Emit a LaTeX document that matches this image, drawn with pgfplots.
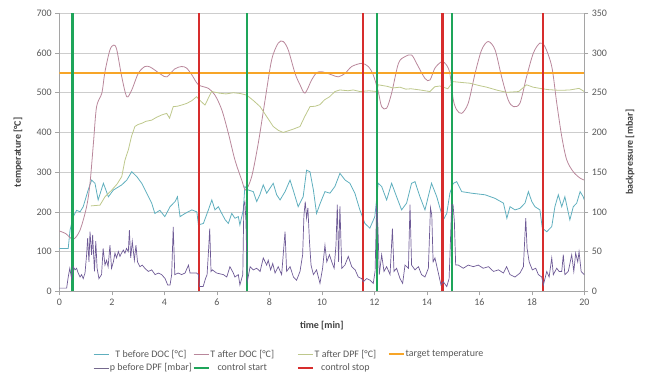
\documentclass[border=0pt]{standalone}
\usepackage{fontspec}
\setmainfont{Carlito}
\usepackage{pgfplots}
\pgfplotsset{compat=1.18}
\definecolor{cTb}{RGB}{95,175,190}
\definecolor{cTa}{RGB}{185,135,155}
\definecolor{cTd}{RGB}{190,200,140}
\definecolor{cTg}{RGB}{247,165,40}
\definecolor{cP}{RGB}{110,90,150}
\definecolor{cS}{RGB}{30,165,90}
\definecolor{cE}{RGB}{215,45,45}
\definecolor{gridc}{RGB}{205,205,205}
\definecolor{axisc}{RGB}{165,165,165}
\definecolor{tickc}{RGB}{89,89,89}
\definecolor{labc}{RGB}{64,64,64}
\begin{document}
\begin{tikzpicture}
\path[use as bounding box] (-59.3bp,-93.7bp) rectangle (585.7bp,291.3bp);
\pgfplotsset{
  every axis/.append style={
    scale only axis, width=525bp, height=278bp, at={(0,0)}, anchor=south west,
    xmin=0, xmax=20,
    tick align=outside, major tick length=4bp,
    tick style={axisc, line width=0.6pt},
    axis line style={-, axisc, line width=0.6pt},
    ticklabel style={font=\fontsize{10}{12}\selectfont, text=tickc},
    /pgf/number format/assume math mode=true,
    label style={font=\fontsize{10}{12}\selectfont\bfseries, text=labc},
  }
}
\begin{axis}[
  ymin=0, ymax=700,
  xtick={0,2,...,20}, ytick={0,100,...,700},
  axis x line*=bottom, axis y line*=left,
  ymajorgrids, grid style={gridc, line width=0.6pt},
  xlabel={time [min]},
  xlabel style={at={(axis description cs:0.5,-0.122)}, anchor=center},
  ylabel={temperature [°C]},
  ylabel style={at={(axis description cs:-0.0787,0.5)}, anchor=center},
  legend columns=4,
  legend style={at={(axis description cs:0.0642,-0.251)}, anchor=west, draw=none,
    inner sep=0pt, nodes={inner xsep=1bp, inner ysep=1bp},
    font=\fontsize{10}{12}\selectfont, text=tickc, row sep=3bp,
    /tikz/column 2/.style={column sep=0bp},
    /tikz/column 4/.style={column sep=22bp},
    /tikz/column 6/.style={column sep=11bp}},
  legend image code/.code={\draw[#1] (0bp,0bp) -- (15bp,0bp);},
]
% T before DOC
\addplot[cTb, line width=0.8pt, forget plot] coordinates {
(0,108)(0.34,108)(0.41,154)(0.53,188)(0.66,204)(0.79,200)(0.91,213)(1.1,255)(1.23,280)(1.36,272)(1.48,230)(1.68,272)(1.87,238)(2.06,255)(2.38,268)(2.57,280)(2.76,301)(2.95,289)(3.14,272)(3.33,247)(3.52,222)(3.64,196)(3.83,204)(4.02,188)(4.22,213)(4.41,226)(4.5,238)(4.6,188)(4.79,196)(5.05,205)(5.24,200)(5.3,167)(5.49,171)(5.68,205)(5.81,230)(5.93,205)(6.06,213)(6.19,196)(6.32,180)(6.44,171)(6.57,196)(6.69,184)(6.82,188)(6.88,167)(7.01,205)(7.07,264)(7.2,255)(7.39,251)(7.52,226)(7.64,243)(7.77,268)(7.9,247)(8.03,260)(8.15,272)(8.28,243)(8.41,230)(8.6,251)(8.79,280)(8.91,255)(9.1,213)(9.29,238)(9.42,305)(9.55,301)(9.68,255)(9.8,196)(9.93,220)(10.12,251)(10.31,247)(10.5,264)(10.69,297)(10.89,280)(11.07,272)(11.26,247)(11.45,205)(11.64,171)(11.83,159)(12.02,188)(12.15,272)(12.28,264)(12.47,230)(12.66,272)(12.85,238)(13.04,205)(13.23,222)(13.42,272)(13.55,276)(13.74,238)(13.93,205)(14.18,272)(14.38,238)(14.63,180)(14.76,196)(14.88,247)(15.01,272)(15.14,276)(15.33,251)(15.71,247)(16.22,243)(16.6,234)(16.92,222)(17.05,184)(17.17,213)(17.36,205)(17.55,209)(17.74,222)(17.87,251)(18.0,226)(18.12,213)(18.31,205)(18.4,159)(18.57,150)(18.76,163)(18.88,213)(19.01,243)(19.14,213)(19.26,238)(19.45,180)(19.58,213)(19.71,222)(19.84,251)(19.96,238)(20,230)
};
% T after DOC
\addplot[cTa, line width=0.8pt, smooth, forget plot] coordinates {
(0,152)(0.25,145)(0.53,131)(0.79,154)(1.04,213)(1.17,272)(1.3,373)(1.42,465)(1.62,499)(1.74,553)(1.93,608)(2.08,620)(2.19,608)(2.38,540)(2.57,490)(2.76,507)(3.01,549)(3.26,566)(3.45,565)(3.64,557)(3.9,545)(4.1,540)(4.4,560)(4.66,566)(4.85,562)(5.05,545)(5.3,520)(5.68,511)(5.93,494)(6.19,457)(6.44,398)(6.69,331)(6.95,280)(7.1,255)(7.33,289)(7.58,373)(7.84,482)(8.09,583)(8.34,625)(8.53,629)(8.72,608)(8.98,549)(9.17,520)(9.36,499)(9.61,532)(9.8,550)(10.0,553)(10.38,545)(10.63,540)(10.89,549)(11.14,566)(11.52,574)(11.77,566)(11.96,545)(12.15,503)(12.28,465)(12.47,461)(12.66,499)(12.92,574)(13.17,591)(13.42,595)(13.61,574)(13.93,536)(14.12,532)(14.31,562)(14.57,578)(14.75,570)(14.88,548)(15.01,482)(15.14,457)(15.33,448)(15.58,474)(15.84,549)(16.09,608)(16.34,629)(16.6,608)(16.85,540)(17.1,482)(17.3,465)(17.55,474)(17.8,540)(18.06,600)(18.31,625)(18.5,616)(18.76,566)(18.95,474)(19.14,390)(19.33,331)(19.58,301)(19.84,285)(20,280)
};
% T after DPF
\addplot[cTd, line width=0.8pt, forget plot] coordinates {
(1.2,215)(1.55,217)(1.74,238)(2.0,255)(2.2,270)(2.38,289)(2.5,330)(2.63,356)(2.75,390)(2.88,415)(3.0,420)(3.14,423)(3.3,428)(3.52,431)(3.7,438)(3.9,444)(4.09,448)(4.2,436)(4.34,465)(4.5,466)(4.66,469)(4.85,473)(5.05,480)(5.23,490)(5.4,478)(5.55,469)(5.8,503)(6.1,499)(6.35,497)(6.63,500)(6.9,498)(7.14,494)(7.4,480)(7.65,465)(7.9,440)(8.15,415)(8.35,405)(8.53,400)(8.9,408)(9.17,415)(9.35,440)(9.55,465)(9.75,466)(9.93,470)(10.1,482)(10.3,490)(10.5,503)(10.69,507)(11.0,505)(11.2,507)(11.45,503)(11.8,505)(12.09,503)(12.15,520)(12.5,516)(12.7,512)(12.98,514)(13.2,509)(13.4,510)(13.74,507)(14.12,503)(14.3,515)(14.5,517)(14.8,510)(15.0,528)(15.3,526)(15.64,524)(16.0,518)(16.28,514)(16.7,506)(17.05,501)(17.5,503)(17.8,520)(18.05,514)(18.31,511)(18.6,508)(18.82,507)(19.1,506)(19.45,507)(19.8,511)(20,503)
};
% target temperature
\addplot[cTg, line width=2.2pt, forget plot] coordinates {(0,550)(20,550)};
% control start
\addplot[cS, line width=2.2pt, ycomb, forget plot] coordinates {(0.5,700)(7.16,700)(12.1,700)(14.96,700)};
% control stop
\addplot[cE, line width=2.2pt, ycomb, forget plot] coordinates {(5.32,700)(11.56,700)(14.6,700)(18.42,700)};
\addlegendimage{cTb, line width=0.8pt}
\addlegendentry{T before DOC [°C]}
\addlegendimage{cTa, line width=0.8pt}
\addlegendentry{T after DOC [°C]}
\addlegendimage{cTd, line width=0.8pt}
\addlegendentry{T after DPF [°C]}
\addlegendimage{cTg, line width=1.6pt}
\addlegendentry{target temperature}
\addlegendimage{cP!60!gray, line width=0.8pt}
\addlegendentry{p before DPF [mbar]}
\addlegendimage{cS, line width=1.6pt}
\addlegendentry{control start}
\addlegendimage{cE, line width=1.6pt}
\addlegendentry{control stop}
\end{axis}
\begin{axis}[
  ymin=0, ymax=350, ytick={0,50,...,350},
  axis x line=none, axis y line*=right,
  ylabel={backpressure [mbar]},
  ylabel style={at={(axis description cs:1.087,0.5)}, anchor=center},
]
\addplot[cP, line width=0.7pt] coordinates {
(0,4)(0.28,4)(0.34,18)(0.4,29)(0.47,16)(0.53,31)(0.6,27)(0.66,29)(0.72,23)(0.79,18)(0.85,21)(0.91,16)(0.98,23)(1.04,46)(1.08,67)(1.13,37)(1.17,75)(1.23,46)(1.27,71)(1.34,25)(1.39,63)(1.44,29)(1.51,16)(1.61,21)(1.67,54)(1.74,33)(1.8,39)(1.86,31)(1.93,58)(1.99,29)(2.06,37)(2.12,48)(2.18,42)(2.25,50)(2.31,44)(2.37,48)(2.44,52)(2.5,48)(2.56,54)(2.63,50)(2.67,77)(2.72,42)(2.78,63)(2.86,39)(2.92,58)(2.98,37)(3.07,31)(3.16,33)(3.26,29)(3.39,25)(3.52,27)(3.65,21)(3.77,23)(3.9,21)(4.03,16)(4.13,8)(4.22,8)(4.28,21)(4.34,81)(4.4,21)(4.53,23)(4.66,21)(4.79,23)(4.92,33)(4.98,23)(5.1,23)(5.23,23)(5.3,21)(5.34,6)(5.48,6)(5.57,16)(5.63,21)(5.69,54)(5.73,79)(5.78,25)(5.83,27)(5.99,23)(6.25,21)(6.38,18)(6.5,31)(6.63,23)(6.69,18)(6.82,21)(6.88,8)(6.99,21)(7.03,109)(7.07,113)(7.11,88)(7.16,12)(7.27,31)(7.39,27)(7.52,29)(7.65,25)(7.77,42)(7.9,33)(7.96,39)(8.05,27)(8.13,35)(8.22,23)(8.34,31)(8.47,21)(8.6,75)(8.66,25)(8.79,31)(8.92,18)(9.04,14)(9.17,25)(9.27,46)(9.32,96)(9.37,113)(9.42,92)(9.47,105)(9.53,63)(9.59,33)(9.68,21)(9.8,27)(9.93,10)(10.03,29)(10.12,58)(10.19,37)(10.29,46)(10.38,37)(10.47,29)(10.54,58)(10.59,109)(10.64,37)(10.69,107)(10.76,29)(10.88,33)(11.01,44)(11.14,31)(11.27,27)(11.39,18)(11.52,16)(11.58,12)(11.71,16)(11.84,14)(11.96,10)(12.03,25)(12.09,109)(12.14,79)(12.19,21)(12.28,46)(12.37,25)(12.47,31)(12.6,21)(12.69,79)(12.75,25)(12.85,29)(12.98,16)(13.08,10)(13.17,33)(13.3,29)(13.36,109)(13.42,33)(13.55,27)(13.68,31)(13.8,21)(13.93,18)(14.06,29)(14.14,105)(14.19,96)(14.24,37)(14.31,42)(14.44,23)(14.54,8)(14.63,12)(14.76,6)(14.85,16)(14.9,63)(14.95,109)(15.0,109)(15.05,88)(15.1,33)(15.2,33)(15.39,29)(15.58,33)(15.77,31)(15.96,33)(16.15,29)(16.35,31)(16.54,25)(16.73,27)(16.92,23)(17.04,31)(17.17,21)(17.36,18)(17.55,23)(17.68,31)(17.77,92)(17.82,54)(17.9,37)(18.02,27)(18.15,29)(18.25,21)(18.38,18)(18.44,8)(18.57,25)(18.66,18)(18.76,42)(18.82,21)(18.95,29)(19.04,25)(19.14,25)(19.2,46)(19.26,21)(19.39,25)(19.52,46)(19.6,25)(19.67,48)(19.75,37)(19.8,50)(19.88,25)(20,21)
};
\end{axis}
\end{tikzpicture}
\end{document}
